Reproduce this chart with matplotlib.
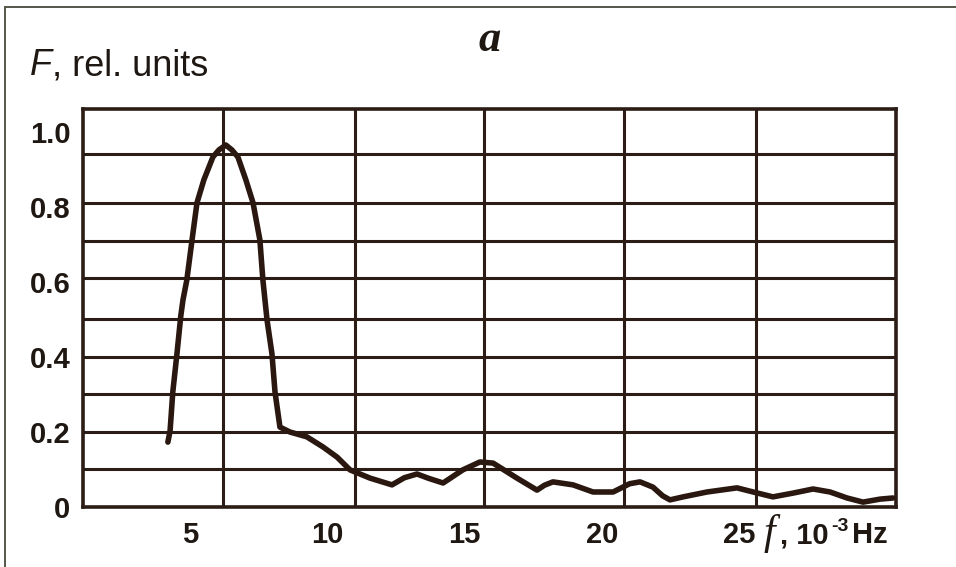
import matplotlib
matplotlib.use('Agg')
import matplotlib.pyplot as plt
from matplotlib.patches import Rectangle

# ---- data ----
freq = [4.19, 4.27, 4.37, 4.52, 4.66, 4.74, 4.88, 5.07, 5.25, 5.50, 5.83, 6.05,
        6.30, 6.52, 6.74, 7.03, 7.29, 7.54, 7.65, 7.80, 7.98, 8.09, 8.27, 8.63,
        9.25, 9.84, 10.35, 10.82, 11.55, 12.35, 12.80, 13.26, 13.70, 14.21, 14.93,
        15.55, 16.03, 16.90, 17.63, 17.90, 18.21, 18.94, 19.67, 20.40, 21.00,
        21.38, 21.85, 22.20, 22.47, 22.95, 23.82, 24.91, 25.50, 26.22, 26.95,
        27.68, 28.30, 28.92, 29.50, 30.12, 30.59]
amp = [0.173, 0.203, 0.307, 0.408, 0.509, 0.552, 0.605, 0.712, 0.811, 0.872, 0.933, 0.952,
       0.965, 0.952, 0.933, 0.872, 0.811, 0.712, 0.605, 0.499, 0.408, 0.307, 0.213, 0.200,
       0.187, 0.160, 0.133, 0.099, 0.077, 0.059, 0.078, 0.088, 0.076, 0.064, 0.099,
       0.120, 0.117, 0.077, 0.045, 0.058, 0.067, 0.059, 0.040, 0.040, 0.062,
       0.067, 0.053, 0.030, 0.019, 0.027, 0.040, 0.051, 0.040, 0.027, 0.037,
       0.048, 0.040, 0.024, 0.013, 0.021, 0.024]

x_ticks = [5, 10, 15, 20, 25]
x_tick_labels = ['5', '10', '15', '20', '25']
y_ticks = [0, 0.2, 0.4, 0.6, 0.8, 1.0]
y_tick_labels = ['0', '0.2', '0.4', '0.6', '0.8', '1.0']
x_grid = [6.2, 11.0, 15.7, 20.8, 25.6]
y_grid = [0.1, 0.2, 0.3, 0.4, 0.5, 0.61, 0.71, 0.81, 0.94]

INK = '#2b1d15'
CURVE = '#2a1710'
TXT = '#1e1712'
SANS = 'Liberation Sans'
SERIF = 'Liberation Serif'

W, H = 956, 567
fig = plt.figure(figsize=(W / 100, H / 100), dpi=100)
fig.patch.set_facecolor('white')

# outer frame (only left and top edges visible in the reference)
fig.add_artist(Rectangle((5 / W, -0.2), 1.5, 1 - 7 / H + 0.2, transform=fig.transFigure,
                         fill=False, lw=1.4, ec='#55554a'))

ax = fig.add_axes([83 / W, 1 - 507 / H, 813 / W, 398 / H])
for yg in y_grid:
    ax.axhline(yg, color=INK, lw=2.2, zorder=1)
for xg in x_grid:
    ax.axvline(xg, color=INK, lw=2.2, zorder=1)

ax.plot(freq, amp, color=CURVE, lw=4.0, solid_joinstyle='round',
        solid_capstyle='round', zorder=3)

ax.set_xlim(1.1, 30.7)
ax.set_ylim(0, 1.061)
ax.set_xticks(x_ticks)
ax.set_xticklabels(x_tick_labels)
ax.set_yticks(y_ticks)
ax.set_yticklabels(y_tick_labels)
ax.tick_params(length=0)
ax.tick_params(axis='x', pad=10)
ax.tick_params(axis='y', pad=9)
for lbl in ax.get_xticklabels() + ax.get_yticklabels():
    lbl.set_fontfamily(SANS)
    lbl.set_fontweight('bold')
    lbl.set_fontsize(21)
    lbl.set_color(TXT)
for s in ax.spines.values():
    s.set_linewidth(2.6)
    s.set_color(INK)

# title "a"
fig.text(490 / W, 1 - 40 / H, 'a', family=SERIF, style='italic', weight='bold',
         size=32, ha='center', va='center', color=TXT)

# y label: "F, rel. units"
tF = fig.text(30 / W, 1 - 75 / H, 'F', family=SANS, style='italic', size=26,
              ha='left', va='baseline', color=TXT)
ax.annotate(', rel. units', xy=(1, 0), xycoords=tF, ha='left', va='bottom',
            family=SANS, size=26, color=TXT, annotation_clip=False)

# x label: "f, 10^-3 Hz"
tf = fig.text(764 / W, 1 - 544 / H, 'f', family=SERIF, style='italic', size=30,
              ha='left', va='baseline', color=TXT)
t10 = fig.text(780 / W, 1 - 543 / H, ', 10', family=SANS, weight='bold', size=21,
               ha='left', va='baseline', color=TXT)
t3 = ax.annotate('-3', xy=(1, 1), xycoords=t10, ha='left', va='top',
                 xytext=(2, 2), textcoords='offset points',
                 family=SANS, weight='bold', size=14, color=TXT,
                 annotation_clip=False)
ax.annotate('Hz', xy=(1, 0), xycoords=(t3, t10), ha='left', va='bottom',
            xytext=(2, 0), textcoords='offset points',
            family=SANS, weight='bold', size=21, color=TXT,
            annotation_clip=False)

fig.savefig('out.png', dpi=100)
